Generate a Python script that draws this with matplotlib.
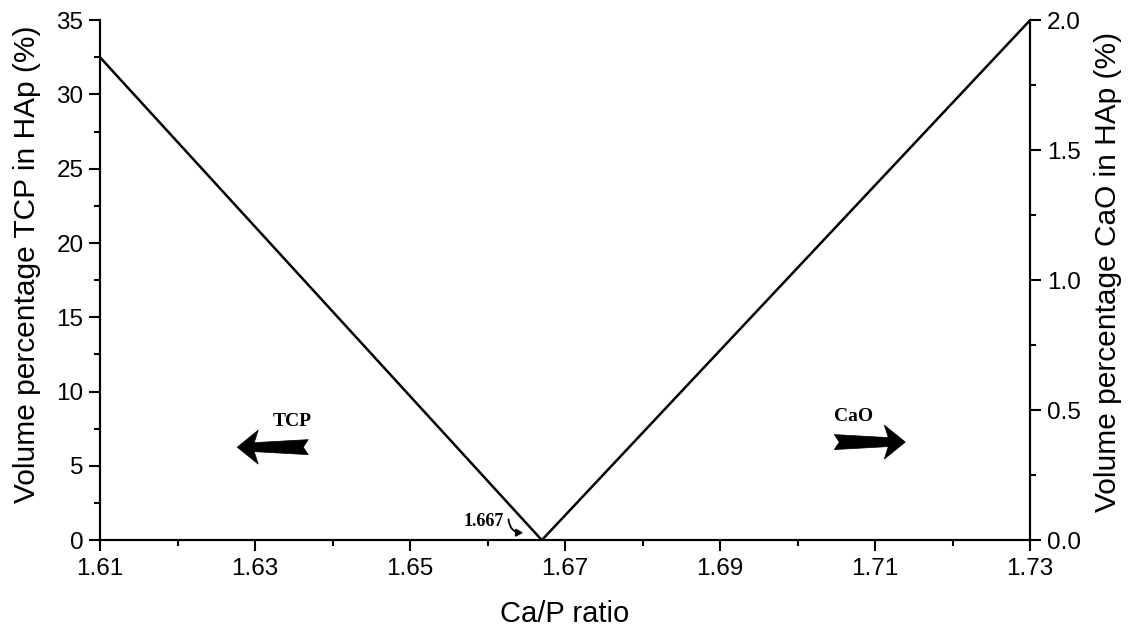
import matplotlib
matplotlib.use("Agg")
import matplotlib.pyplot as plt
import numpy as np
from matplotlib.ticker import MultipleLocator
from matplotlib.patches import Polygon
from matplotlib.transforms import IdentityTransform

# Phase content versus Ca/P ratio
ca_p = [1.61, 1.667, 1.73]
tcp_vol = [32.5, 0.0]     # left axis, Ca/P 1.61 -> 1.667
cao_vol = [0.0, 2.0]      # right axis, Ca/P 1.667 -> 1.73

x_ticks = [1.61, 1.63, 1.65, 1.67, 1.69, 1.71, 1.73]
left_ticks = [0, 5, 10, 15, 20, 25, 30, 35]
right_ticks = [0.0, 0.5, 1.0, 1.5, 2.0]

plt.rcParams['font.family'] = ['Liberation Sans', 'DejaVu Sans']

fig = plt.figure(figsize=(11.28, 6.31), dpi=100)
ax = fig.add_axes([0.0887, 0.144, 0.8245, 0.824])
ax2 = ax.twinx()

ax.set_xlim(1.61, 1.73)
ax.set_ylim(0, 35)
ax2.set_ylim(0, 2.0)

ax.plot(ca_p[:2], tcp_vol, color='black', lw=1.8, solid_capstyle='butt')
ax2.plot(ca_p[1:], cao_vol, color='black', lw=1.8, solid_capstyle='butt')

ax.set_xticks(x_ticks)
ax.set_xticklabels([f"{v:.2f}" for v in x_ticks])
ax.set_yticks(left_ticks)
ax.set_yticklabels([str(v) for v in left_ticks])
ax2.set_yticks(right_ticks)
ax2.set_yticklabels([f"{v:.1f}" for v in right_ticks])
ax.xaxis.set_minor_locator(MultipleLocator(0.01))
ax.yaxis.set_minor_locator(MultipleLocator(2.5))
ax2.yaxis.set_minor_locator(MultipleLocator(0.25))

for a in (ax, ax2):
    a.spines['top'].set_visible(False)
    for s in a.spines.values():
        s.set_linewidth(1.5)
    a.tick_params(which='major', direction='out', length=8, width=1.5,
                  labelsize=17.5, pad=4)
    a.tick_params(which='minor', direction='out', length=4, width=1.5)
ax.tick_params(axis='x', pad=5)

ax.set_xlabel("Ca/P ratio", fontsize=21, va='center')
ax.xaxis.set_label_coords(0.5, -0.142)
ax.set_ylabel("Volume percentage TCP in HAp (%)", fontsize=21.5, va='center')
ax.yaxis.set_label_coords(-0.079, 0.53)
ax2.set_ylabel("Volume percentage CaO in HAp (%)", fontsize=21.5, va='center',
               rotation=90)
ax2.yaxis.set_label_coords(1.084, 0.515)

# Block arrow outline in pixels, tip at origin, pointing toward -x
arrow_px = np.array([
    [0, 0], [21, 17], [17, 4.5], [71, 7.5], [66, 0],
    [71, -7.5], [17, -4.5], [21, -17],
])


def block_arrow(x, y, direction):
    tip = ax.transData.transform((x, y))
    pts = arrow_px.copy()
    pts[:, 0] *= -direction
    fig.add_artist(Polygon(pts + tip, closed=True, facecolor='black',
                           edgecolor='black', lw=0.5,
                           transform=IdentityTransform()))


serif = ['Liberation Serif', 'DejaVu Serif']
block_arrow(1.6277, 6.26, -1)
ax.text(1.6348, 8.0, 'TCP', family=serif, fontweight='bold', fontsize=14,
        ha='center', va='center')
block_arrow(1.7139, 6.6, 1)
ax.text(1.7072, 8.35, 'CaO', family=serif, fontweight='bold', fontsize=14,
        ha='center', va='center')

ax.text(1.6595, 1.25, '1.667', family=serif, fontweight='bold', fontsize=13,
        ha='center', va='center')
ax.annotate('', xy=(1.6646, 0.5), xytext=(1.6627, 1.4),
            arrowprops=dict(arrowstyle='-|>,head_length=0.4,head_width=0.22',
                            color='black', lw=1.3, shrinkA=0, shrinkB=0,
                            connectionstyle='arc3,rad=0.45'))

fig.savefig('out.png', dpi=100)
